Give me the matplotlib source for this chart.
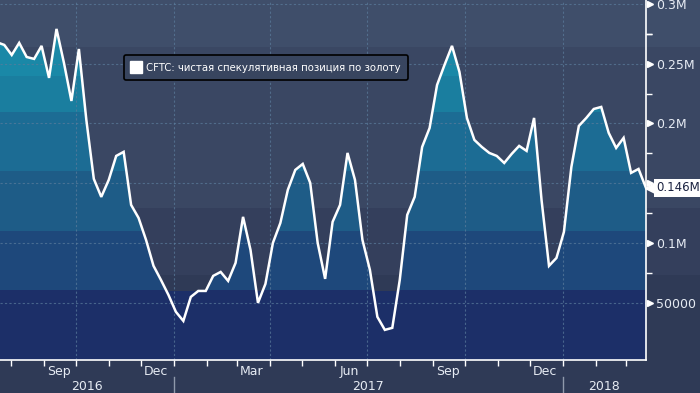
import numpy as np
import pandas as pd
import matplotlib
matplotlib.use("Agg")
import matplotlib.pyplot as plt
import matplotlib.dates as mdates
import matplotlib.transforms as mtransforms
from matplotlib.colors import to_rgb
from matplotlib.lines import Line2D
from matplotlib.patches import Rectangle

# weekly CFTC net speculative gold position (contracts)
dates = pd.date_range("2016-07-19", periods=88, freq="7D")
net_k = [268.0,
         265.7, 257.3, 267.4, 255.6, 254.0, 264.9, 238.1, 279.1, 250.6, 218.8,
         262.3, 202.9, 153.6, 138.5, 152.7, 172.8, 176.2, 131.8, 120.9, 102.5,
         80.8, 69.0, 56.5, 42.3, 34.7, 54.8, 59.8, 59.8, 72.4, 75.7,
         68.2, 83.3, 121.8, 94.1, 49.8, 65.7, 100.0, 116.7, 144.4, 161.1,
         166.1, 150.2, 100.0, 69.9, 117.6, 131.8, 175.3, 152.7, 102.5, 77.4,
         38.1, 27.2, 28.9, 69.0, 123.4, 138.5, 180.3, 196.2, 232.2, 249.0,
         264.9, 243.1, 204.6, 186.2, 180.3, 175.3, 172.8, 166.9, 174.5, 181.2,
         177.0, 204.6, 136.0, 80.8, 87.4, 109.2, 163.6, 197.9, 204.6, 212.1,
         213.8, 192.1, 179.5, 187.9, 158.6, 161.9, 146.0]
net = np.array(net_k) * 1000
last_label = "0.146M"

y_ticks = [50000, 100000, 150000, 200000, 250000, 300000]
y_labels = ["50000", "0.1M", "", "0.2M", "0.25M", "0.3M"]
month_labels = ["Sep", "Dec", "Mar", "Jun", "Sep", "Dec"]
month_label_dates = ["2016-09-15", "2016-12-15", "2017-03-15", "2017-06-15",
                     "2017-09-15", "2017-12-15"]
quarter_dates = ["2016-10-01", "2017-01-01", "2017-04-01", "2017-07-01",
                 "2017-10-01", "2018-01-01"]
years = ["2016", "2017", "2018"]
year_edges = ["2016-07-22", "2017-01-01", "2018-01-01", "2018-03-20"]
legend_text = "CFTC: чистая спекулятивная позиция по золоту"

# colour bands
bg_edges = [-1e6, 73000, 129000, 264000, 1e6]
bg_colors = ["#2f3a56", "#343f5c", "#3a4763", "#3f4e6a"]
fill_edges = [-1e6, 60000, 110000, 160000, 210000, 240000, 264000, 1e6]
fill_colors = ["#1c2f68", "#1e487b", "#1e5c87", "#1c6c94", "#1a7e9f", "#1a88a7", "#1c8eab"]

tick_font = dict(family="DejaVu Sans", size=9)
txt_col = "#e6ebf3"

fig = plt.figure(figsize=(7, 3.93), dpi=100, facecolor="#2f3a56")
ax = fig.add_axes([0, 1 - 360 / 393, 646 / 700, 360 / 393])
ax.set_facecolor("none")

xmin = mdates.date2num(pd.Timestamp(year_edges[0]))
xmax = mdates.date2num(pd.Timestamp(year_edges[-1]))
ymin, ymax = 2000, 303300
ax.set_xlim(xmin, xmax)
ax.set_ylim(ymin, ymax)

# background bands across the whole figure
fig_tr = mtransforms.blended_transform_factory(fig.transFigure, ax.transData)
for lo, hi, c in zip(bg_edges[:-1], bg_edges[1:], bg_colors):
    fig.patches.append(Rectangle((0, lo), 1, hi - lo, transform=fig_tr,
                                 facecolor=c, edgecolor="none", zorder=-5))
ax.axhspan(ymin - 10000, 60000, color=fill_colors[0], zorder=0, lw=0)

# banded fill under the line
x = mdates.date2num(dates)
vals = np.linspace(ymin, ymax, 600)
rows = np.array([to_rgb(fill_colors[np.searchsorted(fill_edges, v) - 1]) for v in vals])
img = np.repeat(rows[:, None, :], 2, axis=1)
poly = ax.fill_between(x, 0, net, facecolor="none", edgecolor="none")
im = ax.imshow(img, extent=[x[0], x[-1], ymin, ymax], origin="lower",
               aspect="auto", interpolation="nearest", zorder=1)
im.set_clip_path(poly.get_paths()[0], ax.transData)
ax.set_xlim(xmin, xmax)
ax.set_ylim(ymin, ymax)

# grid
for d in quarter_dates:
    ax.axvline(mdates.date2num(pd.Timestamp(d)), color="#5b7c9c", lw=0.8,
               ls=(0, (2, 2)), alpha=0.7, zorder=2)
for t in y_ticks:
    ax.axhline(t, color="#5b7c9c", lw=0.8, ls=(0, (2, 2)), alpha=0.7, zorder=2)

ax.plot(x, net, color="white", lw=1.8, zorder=4, solid_joinstyle="miter")

# spines
for s in ["top", "left"]:
    ax.spines[s].set_visible(False)
for s in ["right", "bottom"]:
    ax.spines[s].set_color("white")
    ax.spines[s].set_linewidth(1.2)

# y axis on the right
ax.yaxis.tick_right()
ax.set_yticks(y_ticks)
ax.set_yticklabels(y_labels, color=txt_col, **tick_font)
ax.set_yticks([25000 + t for t in y_ticks[:-1]] + [275000], minor=True)
ax.tick_params(axis="y", which="major", length=0, pad=7)
ax.tick_params(axis="y", which="minor", length=4, width=1, color="white", direction="out")
flag_tr = mtransforms.blended_transform_factory(ax.transAxes, ax.transData) + \
    mtransforms.ScaledTranslation(4 / 100, 0, fig.dpi_scale_trans)
ax.plot([1] * len(y_ticks), y_ticks, ls="none", marker=">", ms=5,
        color="white", transform=flag_tr, clip_on=False, zorder=5)

# last value tag
tag_tr = mtransforms.blended_transform_factory(ax.transAxes, ax.transData) + \
    mtransforms.ScaledTranslation(6 / 100, 0, fig.dpi_scale_trans)
ax.plot([1], [net[-1]], ls="none", marker="<", ms=10, color="white",
        transform=tag_tr, clip_on=False, zorder=6)
txt_tr = mtransforms.blended_transform_factory(ax.transAxes, ax.transData) + \
    mtransforms.ScaledTranslation(10 / 100, 0, fig.dpi_scale_trans)
ax.text(1, net[-1], last_label, transform=txt_tr, ha="left", va="center",
        color="#1a2240", zorder=7, clip_on=False, family="DejaVu Sans", size=8.5,
        bbox=dict(boxstyle="square,pad=0.2", fc="white", ec="none"))

# x axis
month_starts = pd.date_range("2016-08-01", "2018-03-01", freq="MS")
ax.set_xticks(mdates.date2num(month_starts))
ax.set_xticklabels([])
ax.tick_params(axis="x", length=4, width=1, color="white", direction="out")
xa_tr = mtransforms.blended_transform_factory(ax.transData, ax.transAxes)
for lab, d in zip(month_labels, month_label_dates):
    ax.text(mdates.date2num(pd.Timestamp(d)), -0.031, lab, transform=xa_tr,
            ha="center", va="center", color=txt_col, **tick_font)
edges = [mdates.date2num(pd.Timestamp(d)) for d in year_edges]
for i, yr in enumerate(years):
    ax.text((edges[i] + edges[i + 1]) / 2, -0.073, yr, transform=xa_tr,
            ha="center", va="center", color=txt_col, **tick_font)
for e in edges[1:-1]:
    ax.add_line(Line2D([e, e], [-0.047, -0.095], transform=xa_tr, color="#8f99ab",
                       lw=1, clip_on=False))

# legend
handle = Line2D([], [], marker="s", color="white", ls="none", ms=8)
leg = ax.legend([handle], [legend_text], loc="upper left",
                bbox_to_anchor=(124 / 700, 1 - 55 / 393), bbox_transform=fig.transFigure,
                borderaxespad=0, borderpad=0.75, handlelength=0.8, handletextpad=0.6,
                frameon=True, fancybox=True, prop={"family": "DejaVu Sans", "size": 7.3})
leg.get_frame().set_facecolor("#38455f")
leg.get_frame().set_edgecolor("black")
leg.get_frame().set_linewidth(1.2)
leg.get_frame().set_alpha(1)
for t in leg.get_texts():
    t.set_color("white")
leg.set_zorder(8)

fig.savefig("out.png", dpi=100, facecolor=fig.get_facecolor())
